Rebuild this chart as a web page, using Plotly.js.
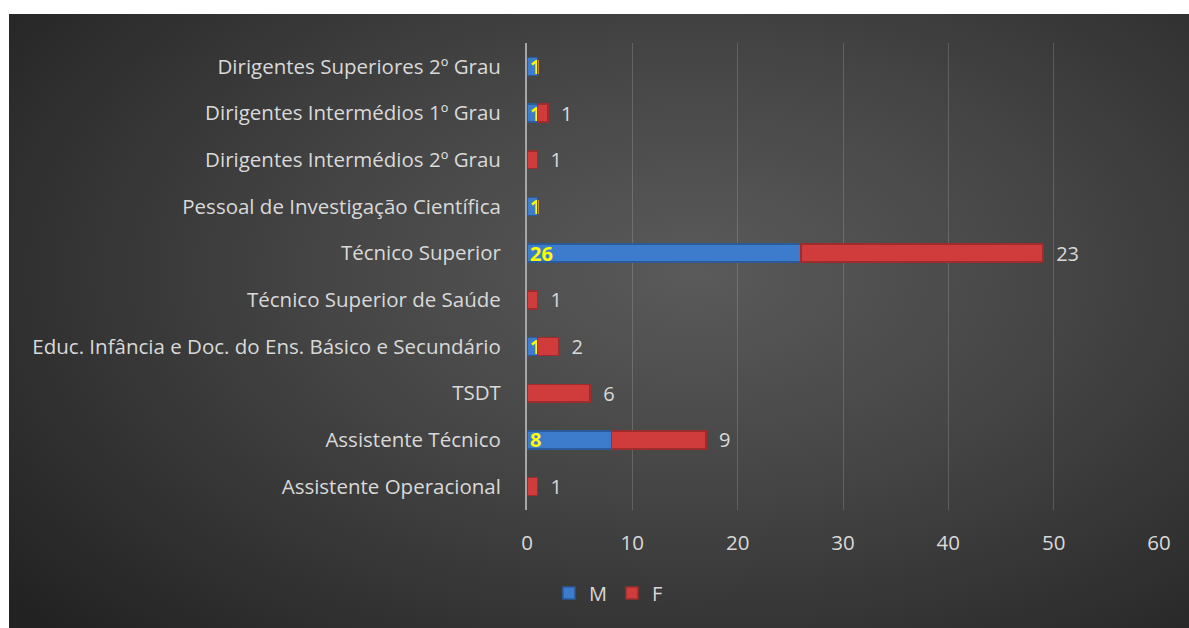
<!DOCTYPE html>
<html>
<head>
<meta charset="utf-8">
<script src="https://cdn.plot.ly/plotly-3.0.1.min.js"></script>
<style>
  html, body { margin: 0; padding: 0; background: #ffffff; }
  #chart {
    position: absolute; left: 9px; top: 14px; width: 1180px; height: 614px;
    background: radial-gradient(ellipse 75% 85% at 58% 42%, #5a5a5a 0%, #464646 40%, #2e2e2e 80%, #222222 100%);
  }
</style>
</head>
<body>
<div id="chart"></div>
<script>
const categories = [
  "Dirigentes Superiores 2º Grau",
  "Dirigentes Intermédios 1º Grau",
  "Dirigentes Intermédios 2º Grau",
  "Pessoal de Investigação Científica",
  "Técnico Superior",
  "Técnico Superior de Saúde",
  "Educ. Infância e Doc. do Ens. Básico e Secundário",
  "TSDT",
  "Assistente Técnico",
  "Assistente Operacional"
];
const valuesM = [1, 1, 0, 1, 26, 0, 1, 0, 8, 0];
const valuesF = [0, 1, 1, 0, 23, 1, 2, 6, 9, 1];
const xTicks = [0, 10, 20, 30, 40, 50, 60];
const seriesNames = ["M", "F"];

const labelFont = "'Open Sans', 'Noto Sans', sans-serif";

const traceM = {
  type: "bar", orientation: "h", name: seriesNames[0],
  y: categories, x: valuesM,
  text: valuesM.map(v => v > 0 ? String(v) : ""),
  textposition: "inside", insidetextanchor: "start", constraintext: "none", textangle: 0,
  textfont: { family: labelFont, size: 20, color: "#ffff00", weight: "bold" },
  marker: { color: "#3d7bcc", line: { color: "#2a5c9c", width: 1.5 } },
  hoverinfo: "skip", cliponaxis: false
};
const traceF = {
  type: "bar", orientation: "h", name: seriesNames[1],
  y: categories, x: valuesF,
  text: valuesF.map(v => v > 0 ? "\u2002" + v : ""),
  textposition: "outside", constraintext: "none", textangle: 0,
  textfont: { family: labelFont, size: 20, color: "#d9d9d9" },
  outsidetextfont: { family: labelFont, size: 20, color: "#d9d9d9" },
  marker: { color: "#d03c3c", line: { color: "#9e2c2c", width: 1.5 } },
  hoverinfo: "skip", cliponaxis: false
};

const layout = {
  width: 1180, height: 614,
  paper_bgcolor: "rgba(0,0,0,0)", plot_bgcolor: "rgba(0,0,0,0)",
  margin: { l: 518, r: 30, t: 29, b: 118 },
  barmode: "stack", bargap: 0.615,
  showlegend: true,
  legend: {
    orientation: "h", xref: "container", yref: "container",
    x: 0.508, xanchor: "center", y: 0.057, yanchor: "middle",
    font: { family: labelFont, size: 20, color: "#d9d9d9" },
    itemwidth: 30, traceorder: "normal"
  },
  xaxis: {
    range: [0, 60], tickvals: xTicks, ticktext: xTicks.map(String),
    showgrid: true, gridcolor: "rgba(255,255,255,0.16)", gridwidth: 1,
    zeroline: false, showline: false,
    ticks: "outside", ticklen: 14, tickcolor: "rgba(0,0,0,0)",
    tickfont: { family: labelFont, size: 20.5, color: "#d9d9d9" }
  },
  yaxis: {
    type: "category", autorange: "reversed",
    showgrid: false, zeroline: false,
    showline: true, linecolor: "#a6a6a6", linewidth: 2,
    ticks: "outside", ticklen: 20, tickcolor: "rgba(0,0,0,0)",
    tickfont: { family: labelFont, size: 20.5, color: "#d9d9d9" }
  }
};

Plotly.newPlot("chart", [traceM, traceF], layout, { displayModeBar: false, staticPlot: true });
</script>
</body>
</html>
